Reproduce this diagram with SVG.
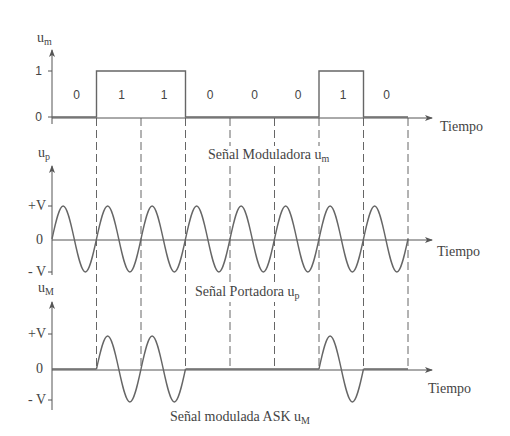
<svg xmlns="http://www.w3.org/2000/svg" xmlns:xlink="http://www.w3.org/1999/xlink" width="510" height="436" viewBox="0 0 510 436">
<style>
.ax{stroke:#555;stroke-width:1;fill:none}
.sig{stroke:#666;stroke-width:1.4;fill:none}
.dash{stroke:#666;stroke-width:1;stroke-dasharray:8,4;fill:none}
.t{font-family:"Liberation Serif",serif;font-size:14px;fill:#444}
.s{font-family:"Liberation Sans",sans-serif;font-size:12px;fill:#444}
.sub{font-size:10px}
.bg{fill:#fff}
</style>
<defs>
<marker id="arr" markerWidth="8" markerHeight="6" refX="7" refY="3" orient="auto" markerUnits="userSpaceOnUse">
<path d="M0,0 L8,3 L0,6 L2,3 Z" fill="#555"/>
</marker>
<path id="cyc" d="M0,0 C3.628,-16.9 7.214,-33 11.125,-33 C15.036,-33 18.622,-16.9 22.25,0 C25.878,16.9 29.464,33 33.375,33 C37.286,33 40.872,16.9 44.5,0"/>
</defs>

<g id="connectors">
<path class="dash" d="M96.5,118 V370 M141,118 V370 M185.5,118 V370 M230,118 V370 M274.5,118 V370 M319,118 V370 M363.5,118 V370 M408,118 V370"/>
</g>

<g id="plot-modulating">
<path class="ax" d="M52,124 V50" marker-end="url(#arr)"/>
<path class="ax" d="M52,118 H432" marker-end="url(#arr)"/>
<path class="ax" d="M48,71 H52 M48,117 H52"/>
<path class="sig" d="M52,117 H96.5 V71 H185.5 V117 H319 V71 H363.5 V117 H408"/>
<text class="t" x="37" y="42">u<tspan class="sub" dy="3">m</tspan></text>
<text class="s" x="42" y="75" text-anchor="end">1</text>
<text class="s" x="42" y="121" text-anchor="end">0</text>
<g class="s" text-anchor="middle">
<text x="76.5" y="99">0</text>
<text x="121.5" y="99">1</text>
<text x="164" y="99">1</text>
<text x="210" y="99">0</text>
<text x="254.5" y="99">0</text>
<text x="298" y="99">0</text>
<text x="343" y="99">1</text>
<text x="386.5" y="99">0</text>
</g>
<text class="t" x="440" y="131">Tiempo</text>
<rect class="bg" x="206" y="146" width="142" height="19"/>
<text class="t" x="208" y="159">Señal Moduladora u<tspan class="sub" dy="3">m</tspan></text>
</g>

<g id="plot-carrier">
<path class="ax" d="M52,275 V166" marker-end="url(#arr)"/>
<path class="ax" d="M52,240 H432" marker-end="url(#arr)"/>
<path class="ax" d="M48,206 H52 M48,272 H52"/>
<g class="sig">
<use xlink:href="#cyc" x="52" y="239"/>
<use xlink:href="#cyc" x="96.5" y="239"/>
<use xlink:href="#cyc" x="141" y="239"/>
<use xlink:href="#cyc" x="185.5" y="239"/>
<use xlink:href="#cyc" x="230" y="239"/>
<use xlink:href="#cyc" x="274.5" y="239"/>
<use xlink:href="#cyc" x="319" y="239"/>
<use xlink:href="#cyc" x="363.5" y="239"/>
</g>
<text class="t" x="38" y="157">u<tspan class="sub" dy="3">p</tspan></text>
<text class="t" x="46" y="210" text-anchor="end">+V</text>
<text class="t" x="43" y="244" text-anchor="end">0</text>
<text class="t" x="46" y="276" text-anchor="end">- V</text>
<text class="t" x="437" y="256">Tiempo</text>
<rect class="bg" x="193" y="284" width="124" height="18"/>
<text class="t" x="195" y="296">Señal Portadora u<tspan class="sub" dy="3">p</tspan></text>
</g>

<g id="plot-ask">
<path class="ax" d="M52,410 V302" marker-end="url(#arr)"/>
<path class="ax" d="M52,370 H432" marker-end="url(#arr)"/>
<path class="ax" d="M48,334 H52 M48,400 H52"/>
<path class="sig" d="M52,369 H96.5 M185.5,369 H319 M363.5,369 H408"/>
<g class="sig">
<use xlink:href="#cyc" x="96.5" y="369"/>
<use xlink:href="#cyc" x="141" y="369"/>
<use xlink:href="#cyc" x="319" y="369"/>
</g>
<text class="t" x="38" y="292">u<tspan class="sub" dy="3">M</tspan></text>
<text class="t" x="46" y="338" text-anchor="end">+V</text>
<text class="t" x="43" y="373" text-anchor="end">0</text>
<text class="t" x="46" y="404" text-anchor="end">- V</text>
<text class="t" x="428" y="393">Tiempo</text>
<text class="t" x="170" y="421">Señal modulada ASK u<tspan class="sub" dy="3">M</tspan></text>
</g>
</svg>
